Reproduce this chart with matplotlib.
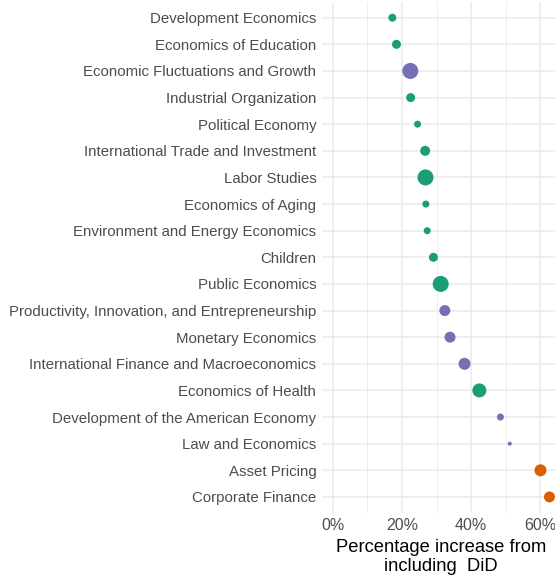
import numpy as np
import matplotlib
matplotlib.use("Agg")
import matplotlib.pyplot as plt
from matplotlib.ticker import FixedLocator, FuncFormatter

plt.rcParams["font.family"] = ["Liberation Sans", "DejaVu Sans"]

# categories, top to bottom
fields = [
    "Development Economics", "Economics of Education", "Economic Fluctuations and Growth",
    "Industrial Organization", "Political Economy", "International Trade and Investment",
    "Labor Studies", "Economics of Aging", "Environment and Energy Economics", "Children",
    "Public Economics", "Productivity, Innovation, and Entrepreneurship", "Monetary Economics",
    "International Finance and Macroeconomics", "Economics of Health",
    "Development of the American Economy", "Law and Economics", "Asset Pricing",
    "Corporate Finance",
]
pct_increase = [17.2, 18.4, 22.4, 22.5, 24.5, 26.7, 26.8, 26.9, 27.3, 29.1,
                31.2, 32.4, 33.9, 38.1, 42.4, 48.5, 51.2, 60.1, 62.7]
# relative weight of each field (drives point area)
weight = [64, 81, 256, 81, 49, 100, 256, 49, 49, 81,
          256, 121, 121, 144, 196, 49, 16, 144, 121]
group = ["micro", "micro", "macro", "micro", "micro", "micro", "micro", "micro", "micro",
         "micro", "micro", "macro", "macro", "macro", "micro", "macro", "macro",
         "finance", "finance"]

colors = {"micro": "#1B9E77", "macro": "#7570B3", "finance": "#D95F02"}

fig = plt.figure(figsize=(5.55, 5.75), dpi=100)
ax = fig.add_axes([0.58, 0.108, 0.42, 0.889])

y = np.arange(len(fields))[::-1]
area = [(np.sqrt(w) * 0.72) ** 2 for w in weight]
ax.scatter(pct_increase, y, s=area, c=[colors[g] for g in group], lw=0, zorder=3)

ax.set_xlim(-3.2, 64.3)
ax.set_ylim(-0.6, len(fields) - 0.4)
ax.set_yticks(y)
ax.set_yticklabels(fields)
ax.xaxis.set_major_locator(FixedLocator([0, 20, 40, 60]))
ax.xaxis.set_minor_locator(FixedLocator([10, 30, 50]))
ax.xaxis.set_major_formatter(FuncFormatter(lambda v, _: f"{v:.0f}%"))

ax.grid(which="major", color="#EBEBEB", lw=1.1, zorder=0)
ax.grid(which="minor", axis="x", color="#EBEBEB", lw=0.6, zorder=0)
ax.set_axisbelow(True)
for s in ax.spines.values():
    s.set_visible(False)
ax.tick_params(which="both", length=0)
ax.tick_params(axis="y", labelsize=10.8, labelcolor="#4D4D4D", pad=4)
ax.tick_params(axis="x", labelsize=11.5, labelcolor="#4D4D4D", pad=4)
ax.set_xlabel("Percentage increase from\nincluding  DiD", fontsize=13.2, color="black",
              labelpad=4, linespacing=1.15)
ax.xaxis.label.set_x(0.51)

fig.savefig("out.png", dpi=100)
